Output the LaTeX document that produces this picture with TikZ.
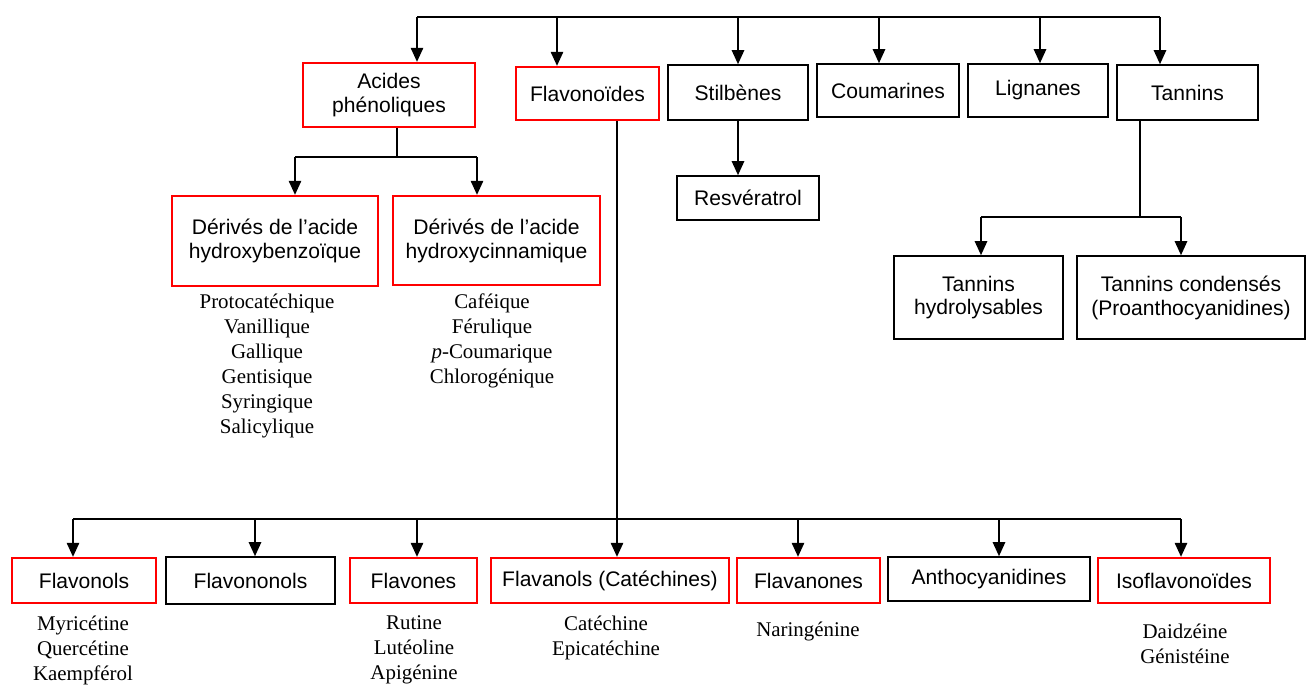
\documentclass[tikz,border=0pt]{standalone}
\usepackage{fontspec}
\setmainfont{Liberation Serif}
\setsansfont{Liberation Sans}
\usetikzlibrary{arrows.meta}

\begin{document}
\begin{tikzpicture}[x=0.02cm,y=-0.02cm,
  box/.style={draw=black, line width=0.9pt, align=center, inner sep=2pt,
    font=\sffamily\fontsize{12}{13.6}\selectfont},
  redbox/.style={box, draw=red, line width=1.3pt},
  liste/.style={align=center, font=\rmfamily\fontsize{11.9}{14.2}\selectfont},
  lien/.style={line width=1.1pt},
  fleche/.style={lien, -{Triangle[length=8pt,width=7pt]}}]
\useasboundingbox (0,0) rectangle (1309,684);

% premier niveau
\node[redbox, minimum width=3.44cm, minimum height=1.28cm] (acides) at (389,95) {Acides\\phénoliques};
\node[redbox, minimum width=2.86cm, minimum height=1.06cm] (flavo) at (587.5,93.5) {Flavonoïdes};
\node[box, minimum width=2.8cm, minimum height=1.1cm] (stilb) at (738,92.5) {Stilbènes};
\node[box, minimum width=2.84cm, minimum height=1.06cm] (couma) at (888,90.5) {Coumarines};
\node[box, minimum width=2.8cm, minimum height=1.06cm] (lign) at (1038,90.5) {Lignanes};
\node[box, minimum width=2.82cm, minimum height=1.1cm] (tann) at (1187.5,92.5) {Tannins};

\coordinate (t1) at (417,17);
\coordinate (t2) at (557,17);
\coordinate (t3) at (738,17);
\coordinate (t4) at (879,17);
\coordinate (t5) at (1040,17);
\coordinate (t6) at (1160,17);
\draw[lien] (t1) -- (t6);
\draw[fleche] (t1) -- (t1 |- acides.north);
\draw[fleche] (t2) -- (t2 |- flavo.north);
\draw[fleche] (t3) -- (t3 |- stilb.north);
\draw[fleche] (t4) -- (t4 |- couma.north);
\draw[fleche] (t5) -- (t5 |- lign.north);
\draw[fleche] (t6) -- (t6 |- tann.north);

% acides phenoliques
\node[redbox, minimum width=4.12cm, minimum height=1.8cm] (hbenz) at (275,241) {Dérivés de l’acide\\hydroxybenzoïque};
\node[redbox, minimum width=4.14cm, minimum height=1.78cm] (hcinn) at (496.5,240.5) {Dérivés de l’acide\\hydroxycinnamique};
\coordinate (a0) at (397,157);
\coordinate (a1) at (295,157);
\coordinate (a2) at (477,157);
\draw[lien] (a0 |- acides.south) -- (a0);
\draw[lien] (a1) -- (a2);
\draw[fleche] (a1) -- (a1 |- hbenz.north);
\draw[fleche] (a2) -- (a2 |- hcinn.north);
\node[liste] (lbenz) at (267,366) {Protocatéchique\\Vanillique\\Gallique\\Gentisique\\Syringique\\Salicylique};
\node[liste] (lcinn) at (492,341) {Caféique\\Férulique\\\textit{p}-Coumarique\\Chlorogénique};

% stilbenes
\node[box, minimum width=2.84cm, minimum height=0.88cm] (resv) at (748,198) {Resvératrol};
\draw[fleche] (stilb.south) -- (stilb.south |- resv.north);

% tannins
\node[box, minimum width=3.38cm, minimum height=1.66cm] (thydro) at (978.5,297.5) {Tannins\\hydrolysables};
\node[box, minimum width=4.56cm, minimum height=1.66cm] (tcond) at (1191,297.5) {Tannins condensés\\(Proanthocyanidines)};
\coordinate (k0) at (1140,217);
\coordinate (k1) at (981,217);
\coordinate (k2) at (1181,217);
\draw[lien] (k0 |- tann.south) -- (k0);
\draw[lien] (k1) -- (k2);
\draw[fleche] (k1) -- (k1 |- thydro.north);
\draw[fleche] (k2) -- (k2 |- tcond.north);

% flavonoides
\node[redbox, minimum width=2.88cm, minimum height=0.9cm] (fnols) at (84,580.5) {Flavonols};
\node[box, minimum width=3.38cm, minimum height=0.94cm] (fnonols) at (250.5,580.5) {Flavononols};
\node[redbox, minimum width=2.54cm, minimum height=0.9cm] (fones) at (413.5,580.5) {Flavones};
\node[redbox, minimum width=4.76cm, minimum height=0.9cm] (fanols) at (610,580.5) {Flavanols (Catéchines)};
\node[redbox, minimum width=2.86cm, minimum height=0.9cm] (fanones) at (808.5,580.5) {Flavanones};
\node[box, minimum width=4.04cm, minimum height=0.88cm] (antho) at (989,579) {Anthocyanidines};
\node[redbox, minimum width=3.44cm, minimum height=0.9cm] (iso) at (1184,580.5) {Isoflavonoïdes};

\coordinate (f0) at (617,519);
\coordinate (f1) at (73,519);
\coordinate (f2) at (255,519);
\coordinate (f3) at (417,519);
\coordinate (f5) at (798,519);
\coordinate (f6) at (999,519);
\coordinate (f7) at (1181,519);
\draw[fleche] (f0 |- flavo.south) -- (f0 |- fanols.north);
\draw[lien] (f1) -- (f7);
\draw[fleche] (f1) -- (f1 |- fnols.north);
\draw[fleche] (f2) -- (f2 |- fnonols.north);
\draw[fleche] (f3) -- (f3 |- fones.north);
\draw[fleche] (f5) -- (f5 |- fanones.north);
\draw[fleche] (f6) -- (f6 |- antho.north);
\draw[fleche] (f7) -- (f7 |- iso.north);

\node[liste] (lnols) at (83,650) {Myricétine\\Quercétine\\Kaempférol};
\node[liste] (lones) at (414,650) {Rutine\\Lutéoline\\Apigénine};
\node[liste] (lanols) at (606,638) {Catéchine\\Epicatéchine};
\node[liste] (lanones) at (808,631) {Naringénine};
\node[liste] (liso) at (1185,643.5) {Daidzéine\\Génistéine};
\end{tikzpicture}
\end{document}
